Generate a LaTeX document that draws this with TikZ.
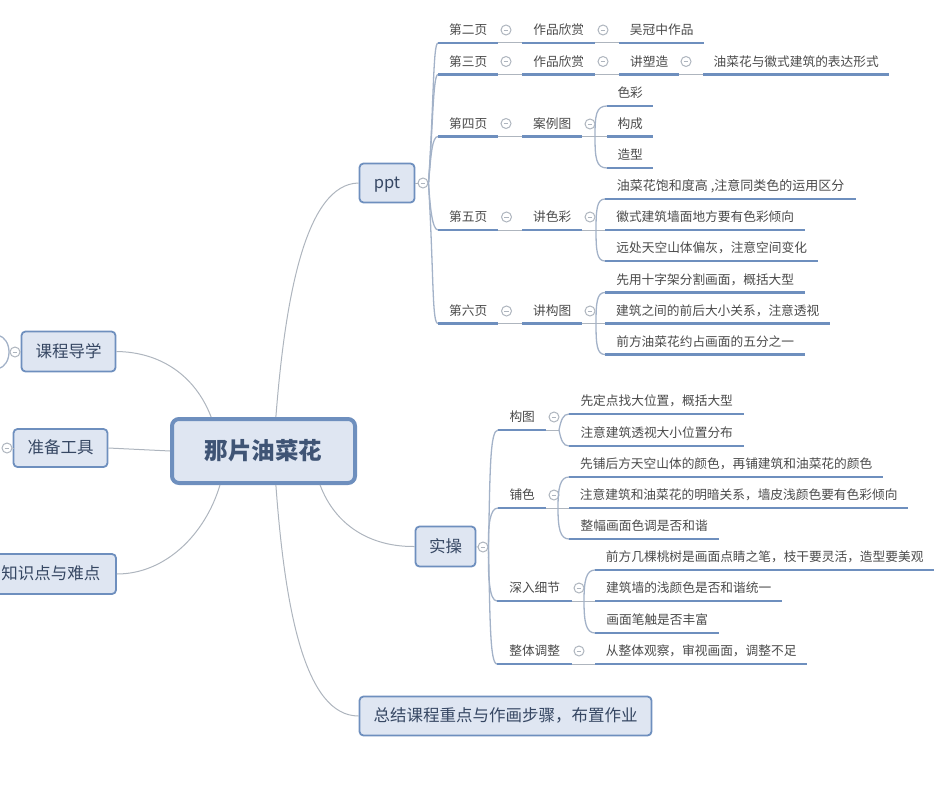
\documentclass[tikz,border=0pt]{standalone}
\usepackage{fontspec}
\setmainfont{Noto Sans CJK SC}
\definecolor{boxfill}{HTML}{DFE6F2}
\definecolor{boxline}{HTML}{6E8FBE}
\definecolor{boxtext}{HTML}{3F5475}
\definecolor{leaftext}{HTML}{4A4A4A}
\definecolor{linkgray}{HTML}{AEB5BE}
\definecolor{bendgray}{HTML}{A3B2C8}
\tikzset{
  mainbox/.style={draw=boxline,fill=boxfill,rounded corners=4pt,line width=1.8pt,inner sep=0pt,
    text height=13.5pt,text depth=2pt,text=boxtext!85!black,font=\fontsize{16.5pt}{18pt}\selectfont},
  root/.style={draw=boxline,fill=boxfill,rounded corners=7pt,line width=4pt,inner sep=0pt,
    text=boxtext,font=\fontsize{23.5pt}{26pt}\selectfont\bfseries,minimum width=183pt,minimum height=64pt},
  leaf/.style={anchor=south west,inner sep=0pt,minimum height=26pt,text height=11pt,text depth=1.5pt,
    text=leaftext,font=\fontsize{12.7pt}{14pt}\selectfont},
  uline/.style={draw=boxline,line width=2.8pt},
  link/.style={draw=linkgray,line width=1pt},
  turnline/.style={draw=bendgray,line width=1.3pt},
  fold/.style={circle,draw=linkgray,line width=1pt,minimum size=10pt,inner sep=0pt,
    path picture={\draw[linkgray,line width=.9pt]
      ([xshift=-2.4pt]path picture bounding box.center) -- ([xshift=2.4pt]path picture bounding box.center);}}
}
\begin{document}
\begin{tikzpicture}[x=1pt,y=-1pt]
\useasboundingbox (0,0) rectangle (948,800);
\node (flower) at (263.5,451) [root] {那片油菜花};
\node (course) at (68.5,351.5) [mainbox,minimum width=94pt,minimum height=40pt] {课程导学};
\node (tools) at (60.5,448) [mainbox,minimum width=94pt,minimum height=38pt] {准备工具};
\node (points) at (51,574) [mainbox,minimum width=130pt,minimum height=40pt] {知识点与难点};
\node (ppt) at (387,183) [mainbox,minimum width=55pt,minimum height=39pt] {ppt};
\node (practice) at (445.5,546.5) [mainbox,minimum width=60pt,minimum height=40pt] {实操};
\node (summary) at (505.5,716) [mainbox,minimum width=292pt,minimum height=39pt] {总结课程重点与作画步骤，布置作业};
% ppt pages
\node (pagetwo) at (438,43) [leaf,minimum width=60pt] {第二页};
\node (pagethree) at (438,74.5) [leaf,minimum width=60pt] {第三页};
\node (pagefour) at (438,136.5) [leaf,minimum width=60pt] {第四页};
\node (pagefive) at (438,230) [leaf,minimum width=60pt] {第五页};
\node (pagesix) at (438,323.5) [leaf,minimum width=60pt] {第六页};
\node (worka) at (522,43) [leaf,minimum width=73pt] {作品欣赏};
\node (workb) at (522,74.5) [leaf,minimum width=73pt] {作品欣赏};
\node (cases) at (522,136.5) [leaf,minimum width=60pt] {案例图};
\node (color) at (522,230) [leaf,minimum width=60pt] {讲色彩};
\node (layout) at (522,323.5) [leaf,minimum width=60pt] {讲构图};
\node (wu) at (619,43) [leaf,minimum width=85pt] {吴冠中作品};
\node (sculpt) at (619,74.5) [leaf,minimum width=60pt] {讲塑造};
\node (express) at (703,74.5) [leaf,minimum width=186pt] {油菜花与徽式建筑的表达形式};
\node (casea) at (607,106) [leaf,minimum width=46pt] {色彩};
\node (caseb) at (607,136.5) [leaf,minimum width=46pt] {构成};
\node (casec) at (607,168) [leaf,minimum width=46pt] {造型};
\node (colora) at (605,199) [leaf,minimum width=251pt,font=\fontsize{13pt}{14pt}\selectfont] {油菜花饱和度高 ,注意同类色的运用区分};
\node (colorb) at (605,230) [leaf,minimum width=200pt] {徽式建筑墙面地方要有色彩倾向};
\node (colorc) at (605,261) [leaf,minimum width=213pt] {远处天空山体偏灰，注意空间变化};
\node (layouta) at (605,292.5) [leaf,minimum width=200pt] {先用十字架分割画面，概括大型};
\node (layoutb) at (605,323.5) [leaf,minimum width=225pt] {建筑之间的前后大小关系，注意透视};
\node (layoutc) at (605,354.5) [leaf,minimum width=200pt] {前方油菜花约占画面的五分之一};
% practice steps
\node (stepa) at (498,430) [leaf,minimum width=48pt] {构图};
\node (stepb) at (498,508) [leaf,minimum width=48pt] {铺色};
\node (stepc) at (497,601) [leaf,minimum width=75pt] {深入细节};
\node (stepd) at (497,664) [leaf,minimum width=75pt] {整体调整};
\node (stepaa) at (569,414) [leaf,minimum width=175pt] {先定点找大位置，概括大型};
\node (stepab) at (569,446) [leaf,minimum width=175pt] {注意建筑透视大小位置分布};
\node (stepba) at (569,477) [leaf,minimum width=314pt] {先铺后方天空山体的颜色，再铺建筑和油菜花的颜色};
\node (stepbb) at (569,508) [leaf,minimum width=339pt] {注意建筑和油菜花的明暗关系，墙皮浅颜色要有色彩倾向};
\node (stepbc) at (569,539) [leaf,minimum width=150pt] {整幅画面色调是否和谐};
\node (stepca) at (595,570) [leaf,minimum width=339pt] {前方几棵桃树是画面点睛之笔，枝干要灵活，造型要美观};
\node (stepcb) at (595,601) [leaf,minimum width=187pt] {建筑墙的浅颜色是否和谐统一};
\node (stepcc) at (595,633) [leaf,minimum width=124pt] {画面笔触是否丰富};
\node (stepda) at (595,664) [leaf,minimum width=212pt] {从整体观察，审视画面，调整不足};
% fold marks
\node (coursefold) at (15,352) [fold] {};
\node (toolsfold) at (7,448) [fold] {};
\node (pptfold) at (423,183) [fold] {};
\node (practicefold) at (483,547) [fold] {};
\node (twofold) at (506,30) [fold] {};
\node (threefold) at (506,61.5) [fold] {};
\node (fourfold) at (506,123.5) [fold] {};
\node (fivefold) at (506.5,217) [fold] {};
\node (sixfold) at (506.5,311) [fold] {};
\node (workafold) at (603,30) [fold] {};
\node (workbfold) at (603,61.5) [fold] {};
\node (sculptfold) at (686,61.5) [fold] {};
\node (casesfold) at (590,124) [fold] {};
\node (colorfold) at (590,217) [fold] {};
\node (layoutfold) at (590,311) [fold] {};
\node (stepafold) at (554,417) [fold] {};
\node (stepbfold) at (554,495) [fold] {};
\node (stepcfold) at (579,588) [fold] {};
\node (stepdfold) at (579,651) [fold] {};
% free ends of the small turns
\coordinate (courseup) at (-2,335);
\coordinate (coursedown) at (-2,369);
\coordinate (courseturn) at (9,352);
\coordinate (casesturn) at (595,136.5);
\coordinate (colorturn) at (596,230);
\coordinate (layoutturn) at (596,323.5);
\coordinate (stepaturn) at (559,430);
\coordinate (stepbturn) at (558,508);
\coordinate (stepcturn) at (584,601);
% centre to main boxes
\draw[link] (flower.147) .. controls (195,375) and (160,352) .. (course.east);
\draw[link] (flower.west) -- (tools.east);
\draw[link] (flower.218) .. controls (205,535) and (165,574) .. (points.east);
\draw[link] (flower.70) .. controls (285,300) and (305,184) .. (ppt.west);
\draw[link] (flower.329) .. controls (335,525) and (370,547) .. (practice.west);
\draw[link] (flower.290) .. controls (285,610) and (305,716) .. (summary.west);
\draw[link] (coursefold) -- (course);
\draw[link] (toolsfold) -- (tools);
\draw[link] (ppt) -- (pptfold);
\draw[link] (practice) -- (practicefold);
% straight joins along the underlines
\foreach \a/\b in {pagetwo/worka,worka/wu,pagethree/workb,workb/sculpt,sculpt/express,pagefour/cases,cases/caseb,
  pagefive/color,color/colorb,pagesix/layout,layout/layoutb,stepb/stepbb,stepc/stepcb,stepd/stepda}
  \draw[link] (\a.south east) -- (\b.south west);
\draw[link] (stepa.south east) -- (stepaturn);
\draw[turnline] (pptfold.east) .. controls (434,100) and (433,43) .. (pagetwo.south west);
\draw[turnline] (pptfold.east) .. controls (433,125) and (433,74.5) .. (pagethree.south west);
\draw[turnline] (pptfold.east) .. controls (431,155) and (432,136.5) .. (pagefour.south west);
\draw[turnline] (pptfold.east) .. controls (430,205) and (432,230) .. (pagefive.south west);
\draw[turnline] (pptfold.east) .. controls (434,280) and (432,323.5) .. (pagesix.south west);
\draw[turnline] (practicefold.east) .. controls (490,470) and (490,430) .. (stepa.south west);
\draw[turnline] (practicefold.east) .. controls (488,525) and (490,508) .. (stepb.south west);
\draw[turnline] (practicefold.east) .. controls (488,575) and (489,601) .. (stepc.south west);
\draw[turnline] (practicefold.east) .. controls (490,620) and (490,664) .. (stepd.south west);
\draw[turnline] (courseup) .. controls (5,337) and (9,344) .. (courseturn);
\draw[turnline] (coursedown) .. controls (5,367) and (9,360) .. (courseturn);
\draw[turnline] (casesturn) .. controls (595,115) and (596,106) .. (casea.south west);
\draw[turnline] (casesturn) .. controls (595,158) and (596,168) .. (casec.south west);
\draw[turnline] (colorturn) .. controls (596,209) and (597,199) .. (colora.south west);
\draw[turnline] (colorturn) .. controls (596,251) and (597,261) .. (colorc.south west);
\draw[turnline] (layoutturn) .. controls (596,302) and (597,292.5) .. (layouta.south west);
\draw[turnline] (layoutturn) .. controls (596,345) and (597,354.5) .. (layoutc.south west);
\draw[turnline] (stepaturn) .. controls (561,420) and (563,414) .. (stepaa.south west);
\draw[turnline] (stepaturn) .. controls (561,440) and (563,446) .. (stepab.south west);
\draw[turnline] (stepbturn) .. controls (558,488) and (560,477) .. (stepba.south west);
\draw[turnline] (stepbturn) .. controls (558,528) and (560,539) .. (stepbc.south west);
\draw[turnline] (stepcturn) .. controls (584,581) and (586,570) .. (stepca.south west);
\draw[turnline] (stepcturn) .. controls (584,622) and (586,633) .. (stepcc.south west);
% underlines last
\foreach \n in {pagetwo,pagethree,pagefour,pagefive,pagesix,worka,workb,cases,color,layout,wu,sculpt,express,
  casea,caseb,casec,colora,colorb,colorc,layouta,layoutb,layoutc,stepa,stepb,stepc,stepd,
  stepaa,stepab,stepba,stepbb,stepbc,stepca,stepcb,stepcc,stepda}
  \draw[uline] (\n.south west) -- (\n.south east);
\end{tikzpicture}
\end{document}
